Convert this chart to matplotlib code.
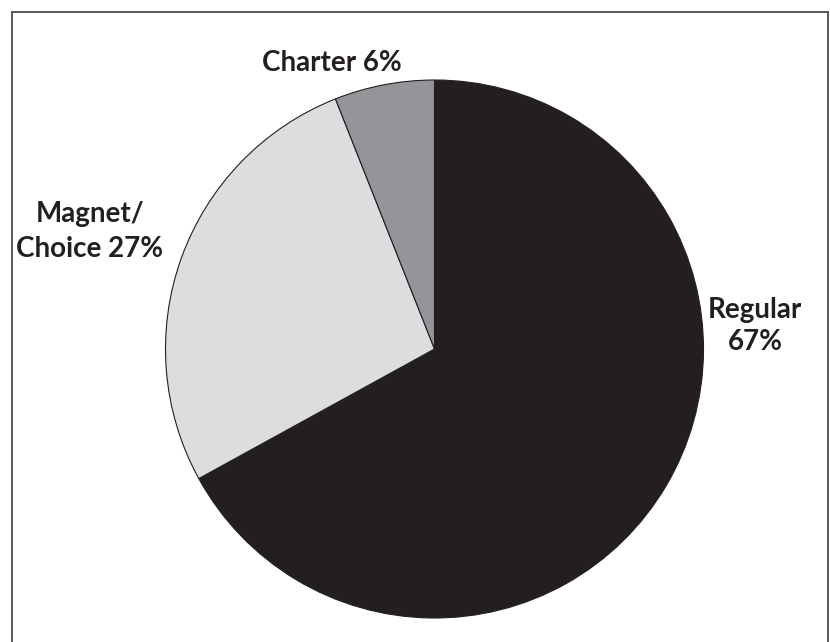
import matplotlib.pyplot as plt
from matplotlib.lines import Line2D

labels = ['Regular', 'Magnet/Choice', 'Charter']
shares = [67, 27, 6]
colors = ['#231f20', '#dcdddf', '#939598']

W, H = 830, 642
fig = plt.figure(figsize=(W / 100, H / 100), dpi=100)

# pie axes: center (434, 349), radius ~269 px
cx, cy, r = 434.5, 349, 269
ax = fig.add_axes([(cx - r) / W, 1 - (cy + r) / H, 2 * r / W, 2 * r / H])
ax.pie(shares, colors=colors, startangle=90, counterclock=False,
       wedgeprops=dict(edgecolor='#231f20', linewidth=0.8))
ax.set_xlim(-1, 1)
ax.set_ylim(-1, 1)
ax.set_aspect('auto')
ax.axis('off')

font = dict(family=['Lato', 'DejaVu Sans'], fontweight='bold', fontsize=20,
            color='#231f20', ha='center', va='baseline')


def label(x, y, s):
    fig.text(x / W, 1 - y / H, s, **font)


label(332, 71, f'{labels[2]} {shares[2]}%')
label(90, 222, 'Magnet/')
label(90, 257, f'Choice {shares[1]}%')
label(755, 318, labels[0])
label(755, 350, f'{shares[0]}%')

# frame
fc = '#58595b'
fig.add_artist(Line2D([12 / W, 12 / W], [0, 1 - 12 / H], color=fc, lw=1.4))
fig.add_artist(Line2D([12 / W, 828 / W], [1 - 12 / H, 1 - 12 / H], color=fc, lw=1.4))
fig.add_artist(Line2D([828 / W, 828 / W], [0, 1 - 12 / H], color=fc, lw=1.4))

fig.savefig('out.png', dpi=100)
